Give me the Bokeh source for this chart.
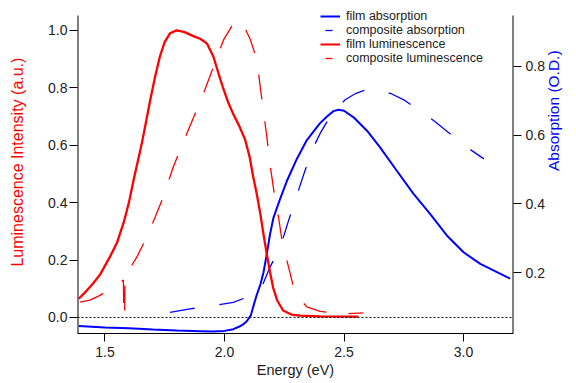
import math
from bokeh.plotting import figure
from bokeh.models import Range1d, LinearAxis, FixedTicker, PrintfTickFormatter, Span, Legend, LegendItem
from bokeh.embed import file_html
from bokeh.resources import INLINE

# ---- data ----
film_lum_x = [1.39, 1.42, 1.45, 1.48, 1.52, 1.55, 1.578, 1.60, 1.62, 1.655, 1.69, 1.71, 1.73, 1.75,
              1.772, 1.80, 1.83, 1.87, 1.90, 1.926, 1.953, 1.975, 1.994, 2.015, 2.036, 2.06, 2.086,
              2.105, 2.12, 2.135, 2.15, 2.165, 2.177, 2.19, 2.203, 2.22, 2.245, 2.28, 2.316, 2.40, 2.56]
film_lum_y = [0.065, 0.09, 0.118, 0.15, 0.21, 0.26, 0.33, 0.40, 0.48, 0.61, 0.76, 0.84, 0.91, 0.96,
              0.99, 1.0, 0.995, 0.98, 0.97, 0.955, 0.91, 0.85, 0.80, 0.75, 0.71, 0.67, 0.62,
              0.56, 0.49, 0.43, 0.36, 0.28, 0.22, 0.16, 0.105, 0.06, 0.024, 0.01, 0.006, 0.004, 0.003]

comp_lum_x = [1.396, 1.437, 1.479, 1.534, 1.577, 1.579, 1.582, 1.584, 1.60, 1.633, 1.675, 1.71, 1.744,
              1.786, 1.842, 1.877, 1.912, 1.954, 1.996, 2.02, 2.045, 2.07, 2.09, 2.107, 2.135, 2.15,
              2.177, 2.19, 2.212, 2.226, 2.24, 2.268, 2.289, 2.31, 2.344, 2.40, 2.45, 2.51, 2.58]
comp_lum_y = [0.053, 0.06, 0.077, 0.105, 0.13, 0.0, 0.0, 0.145, 0.165, 0.21, 0.28, 0.35, 0.42,
              0.525, 0.64, 0.71, 0.78, 0.874, 0.967, 1.0, 1.035, 1.03, 1.0, 0.97, 0.90, 0.80,
              0.63, 0.535, 0.41, 0.35, 0.27, 0.175, 0.105, 0.07, 0.037, 0.021, 0.016, 0.013, 0.016]

film_abs_x = [1.39, 1.50, 1.60, 1.70, 1.80, 1.90, 1.95, 2.00, 2.037, 2.06, 2.08, 2.093, 2.11, 2.12,
              2.135, 2.15, 2.163, 2.177, 2.19, 2.205, 2.233, 2.26, 2.302, 2.344, 2.372, 2.40, 2.43,
              2.456, 2.477, 2.50, 2.54, 2.596, 2.65, 2.72, 2.79, 2.86, 2.93, 3.0, 3.07, 3.14, 3.195]
film_abs_y = [0.044, 0.040, 0.038, 0.034, 0.031, 0.029, 0.028, 0.030, 0.035, 0.042, 0.050, 0.058, 0.075, 0.10,
              0.135, 0.165, 0.20, 0.254, 0.31, 0.36, 0.415, 0.465, 0.53, 0.585, 0.61, 0.635, 0.655,
              0.67, 0.674, 0.671, 0.652, 0.613, 0.565, 0.497, 0.43, 0.371, 0.308, 0.259, 0.225, 0.201, 0.182]

comp_abs_x = [1.772, 1.855, 1.96, 2.037, 2.093, 2.135, 2.16, 2.19, 2.233, 2.268, 2.302, 2.337, 2.372,
              2.40, 2.428, 2.465, 2.505, 2.55, 2.602, 2.65, 2.70, 2.75, 2.79, 2.84, 2.88, 2.92, 2.965,
              3.02, 3.085]
comp_abs_y = [0.084, 0.094, 0.104, 0.113, 0.128, 0.143, 0.165, 0.215, 0.274, 0.351, 0.424, 0.497, 0.565,
              0.605, 0.638, 0.675, 0.703, 0.722, 0.735, 0.732, 0.72, 0.703, 0.684, 0.661, 0.64, 0.617, 0.592,
              0.562, 0.531]

x_ticks = [1.5, 2.0, 2.5, 3.0]
lum_ticks = [0.0, 0.2, 0.4, 0.6, 0.8, 1.0]
abs_ticks = [0.2, 0.4, 0.6, 0.8]
labels = ["film absorption", "composite absorption", "film luminescence", "composite luminescence"]
x_title = "Energy (eV)"
lum_title = "Luminescence Intensity (a.u.)"
abs_title = "Absorption (O.D.)"

RED = "#FF0000"
BLUE = "#0000FF"
FONT = "Liberation Sans"

X0, X1 = 1.385, 3.209
L0, L1 = -0.056, 1.052      # visible axis extent (left)
A0, A1 = 0.0224, 0.9485     # visible axis extent (right)
L_TOP = 1.0764              # frame extends a little above the axes for the legend
A_TOP = 0.9689

p = figure(width=576, height=383, output_backend="svg", toolbar_location=None,
           x_range=Range1d(X0, X1), y_range=Range1d(L0, L_TOP),
           min_border_left=77, min_border_right=63, min_border_top=8, min_border_bottom=50)
p.extra_y_ranges = {"abs": Range1d(A0, A_TOP)}
p.outline_line_color = None
p.grid.visible = False
p.background_fill_color = "white"

# baseline
p.add_layout(Span(location=0.0, dimension="width", line_color="black", line_dash="2 2", line_width=1))

# vertical axis lines limited to the axes extent (half clipped by the frame -> 1px)
p.segment(x0=[X0, X1], y0=[L0, L0], x1=[X0, X1], y1=[L1, L1], line_color="black", line_width=2)

r_fa = p.line(film_abs_x, film_abs_y, y_range_name="abs", line_color=BLUE, line_width=2)
r_ca = p.line(comp_abs_x, comp_abs_y, y_range_name="abs", line_color=BLUE, line_width=1.3, line_dash="25 25")
r_fl = p.line(film_lum_x, film_lum_y, line_color=RED, line_width=2.3)
r_cl = p.line(comp_lum_x, comp_lum_y, line_color=RED, line_width=1.3, line_dash="25 22")

# legend proxies (off-screen)
px, py = [0.0, 0.1], [-5.0, -5.0]
l_fa = p.line(px, py, line_color=BLUE, line_width=2)
l_ca = p.line(px, py, line_color=BLUE, line_width=1.3, line_dash="7 30", line_dash_offset=32)
l_fl = p.line(px, py, line_color=RED, line_width=2)
l_cl = p.line(px, py, line_color=RED, line_width=1.3, line_dash="7 30", line_dash_offset=32)

legend = Legend(items=[LegendItem(label=labels[0], renderers=[l_fa]),
                       LegendItem(label=labels[1], renderers=[l_ca]),
                       LegendItem(label=labels[2], renderers=[l_fl]),
                       LegendItem(label=labels[3], renderers=[l_cl])],
                location=(243, 268), border_line_color=None, background_fill_alpha=0,
                padding=0, spacing=0, margin=0, label_height=14, glyph_height=14, glyph_width=20,
                label_standoff=6, label_text_font=FONT, label_text_font_size="12.5px",
                label_text_color="#222222")
p.add_layout(legend, "center")

def style(ax, color="#222222"):
    ax.axis_line_color = "black"
    ax.axis_line_width = 1
    ax.major_tick_line_color = "black"
    ax.major_tick_out = 8
    ax.major_tick_in = 0
    ax.minor_tick_line_color = None
    ax.major_label_text_font = FONT
    ax.major_label_text_font_size = "14px"
    ax.major_label_text_color = "#222222"
    ax.axis_label_text_font = FONT
    ax.axis_label_text_font_style = "normal"
    ax.axis_label_text_color = color
    ax.formatter = PrintfTickFormatter(format="%.1f")

xa = p.xaxis[0]
style(xa)
xa.ticker = FixedTicker(ticks=x_ticks)
xa.axis_label = x_title
xa.axis_label_text_font_size = "14.5px"
xa.major_label_standoff = 5
xa.axis_label_standoff = 2

ya = p.yaxis[0]
style(ya, RED)
ya.axis_line_color = None
ya.ticker = FixedTicker(ticks=lum_ticks)
ya.axis_label = "\u00a0\u00a0\u00a0\u00a0" + lum_title
ya.axis_label_text_font_size = "16px"
ya.major_label_standoff = 2
ya.axis_label_standoff = 19

ra = LinearAxis(y_range_name="abs")
style(ra, BLUE)
ra.axis_line_color = None
ra.ticker = FixedTicker(ticks=abs_ticks)
ra.axis_label = abs_title
ra.axis_label_text_font_size = "15.5px"
ra.axis_label_orientation = math.pi / 2
ra.major_label_standoff = 4
ra.axis_label_standoff = 6
p.add_layout(ra, "right")

open("out.html", "w").write(file_html(p, INLINE))
